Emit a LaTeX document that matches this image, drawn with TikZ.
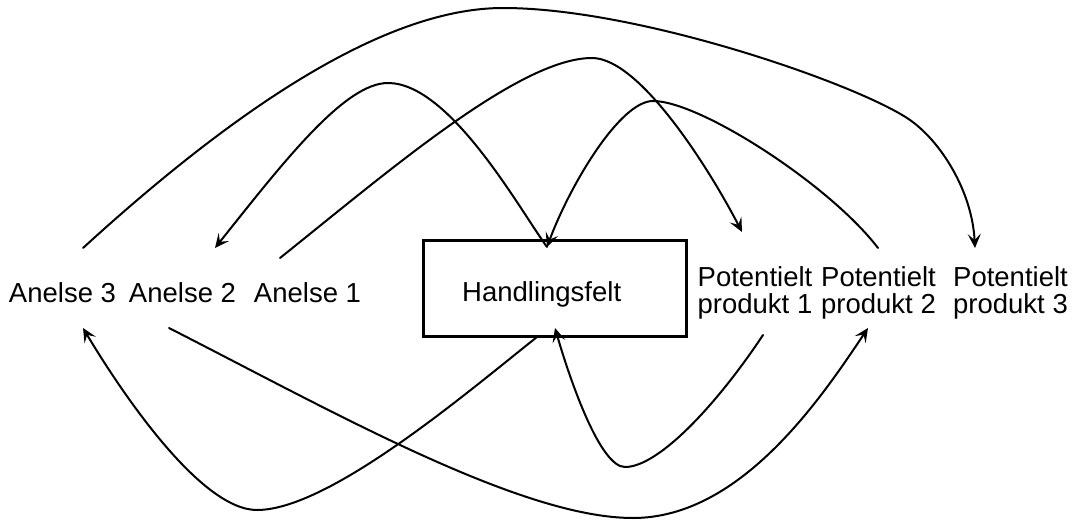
\documentclass[tikz,border=0pt]{standalone}
\usepackage{fontspec}
\setmainfont{Liberation Sans}
\usetikzlibrary{arrows.meta}
\begin{document}
\begin{tikzpicture}[x=1pt,y=-1pt,
  lbl/.style={inner sep=0pt, anchor=base, align=center, font=\fontsize{27.5}{27}\selectfont},
  boxnode/.style={draw, line width=3pt, minimum width=263pt, minimum height=96pt, inner sep=0pt},
  conn/.style={line width=2pt, line cap=round},
  tip/.style={-{Stealth[length=14pt,width=13pt,inset=6pt]}}]
\useasboundingbox (0,0) rectangle (1080,522);
% nodes
\node[lbl] (a3) at (62.5,302) {Anelse 3};
\node[lbl] (a2) at (182.5,302) {Anelse 2};
\node[lbl] (a1) at (307.5,302) {Anelse 1};
\node[boxnode] (hf) at (554.5,288) {};
\node[lbl] (hft) at (541.7,301.7) {Handlingsfelt};
\node[lbl] (p1) at (755,313) {Potentielt\\produkt 1};
\node[lbl] (p2) at (878.5,313) {Potentielt\\produkt 2};
\node[lbl] (p3) at (1010.5,313) {Potentielt\\produkt 3};
% connector ends
\coordinate (a3top) at (83,248);
\coordinate (a3bot) at (83,328);
\coordinate (a2top) at (215,248);
\coordinate (a2bot) at (169,328);
\coordinate (a1top) at (280,258);
\coordinate (hftop) at (547,247);
\coordinate (hfbotL) at (537,337);
\coordinate (hfbotR) at (555,328);
\coordinate (p1top) at (742,232);
\coordinate (p1bot) at (763,335);
\coordinate (p2top) at (878,248);
\coordinate (p2bot) at (868,328);
\coordinate (p3top) at (975,248);
% connectors
\draw[conn,tip] (a3top) .. controls (245,100) and (390,8) .. (503,8)
  .. controls (640,8) and (860,85) .. (910,120)
  .. controls (940,141) and (972,190) .. (p3top);
\draw[conn,tip] (hftop) .. controls (520,210) and (450,83) .. (388,83)
  .. controls (345,83) and (285,160) .. (a2top);
\draw[conn,tip] (a1top) .. controls (390,170) and (520,58) .. (592,58)
  .. controls (640,58) and (710,170) .. (p1top);
\draw[conn,tip] (p2top) .. controls (830,185) and (700,101) .. (653,101)
  .. controls (620,101) and (570,185) .. (hftop);
\draw[conn,tip] (hfbotL) .. controls (470,390) and (330,510) .. (257,510)
  .. controls (200,510) and (120,390) .. (a3bot);
\draw[conn,tip] (p1bot) .. controls (720,400) and (660,467) .. (625,467)
  .. controls (600,467) and (570,380) .. (hfbotR);
\draw[conn,tip] (a2bot) .. controls (330,410) and (520,518) .. (633,518)
  .. controls (740,518) and (820,400) .. (p2bot);
\end{tikzpicture}
\end{document}
